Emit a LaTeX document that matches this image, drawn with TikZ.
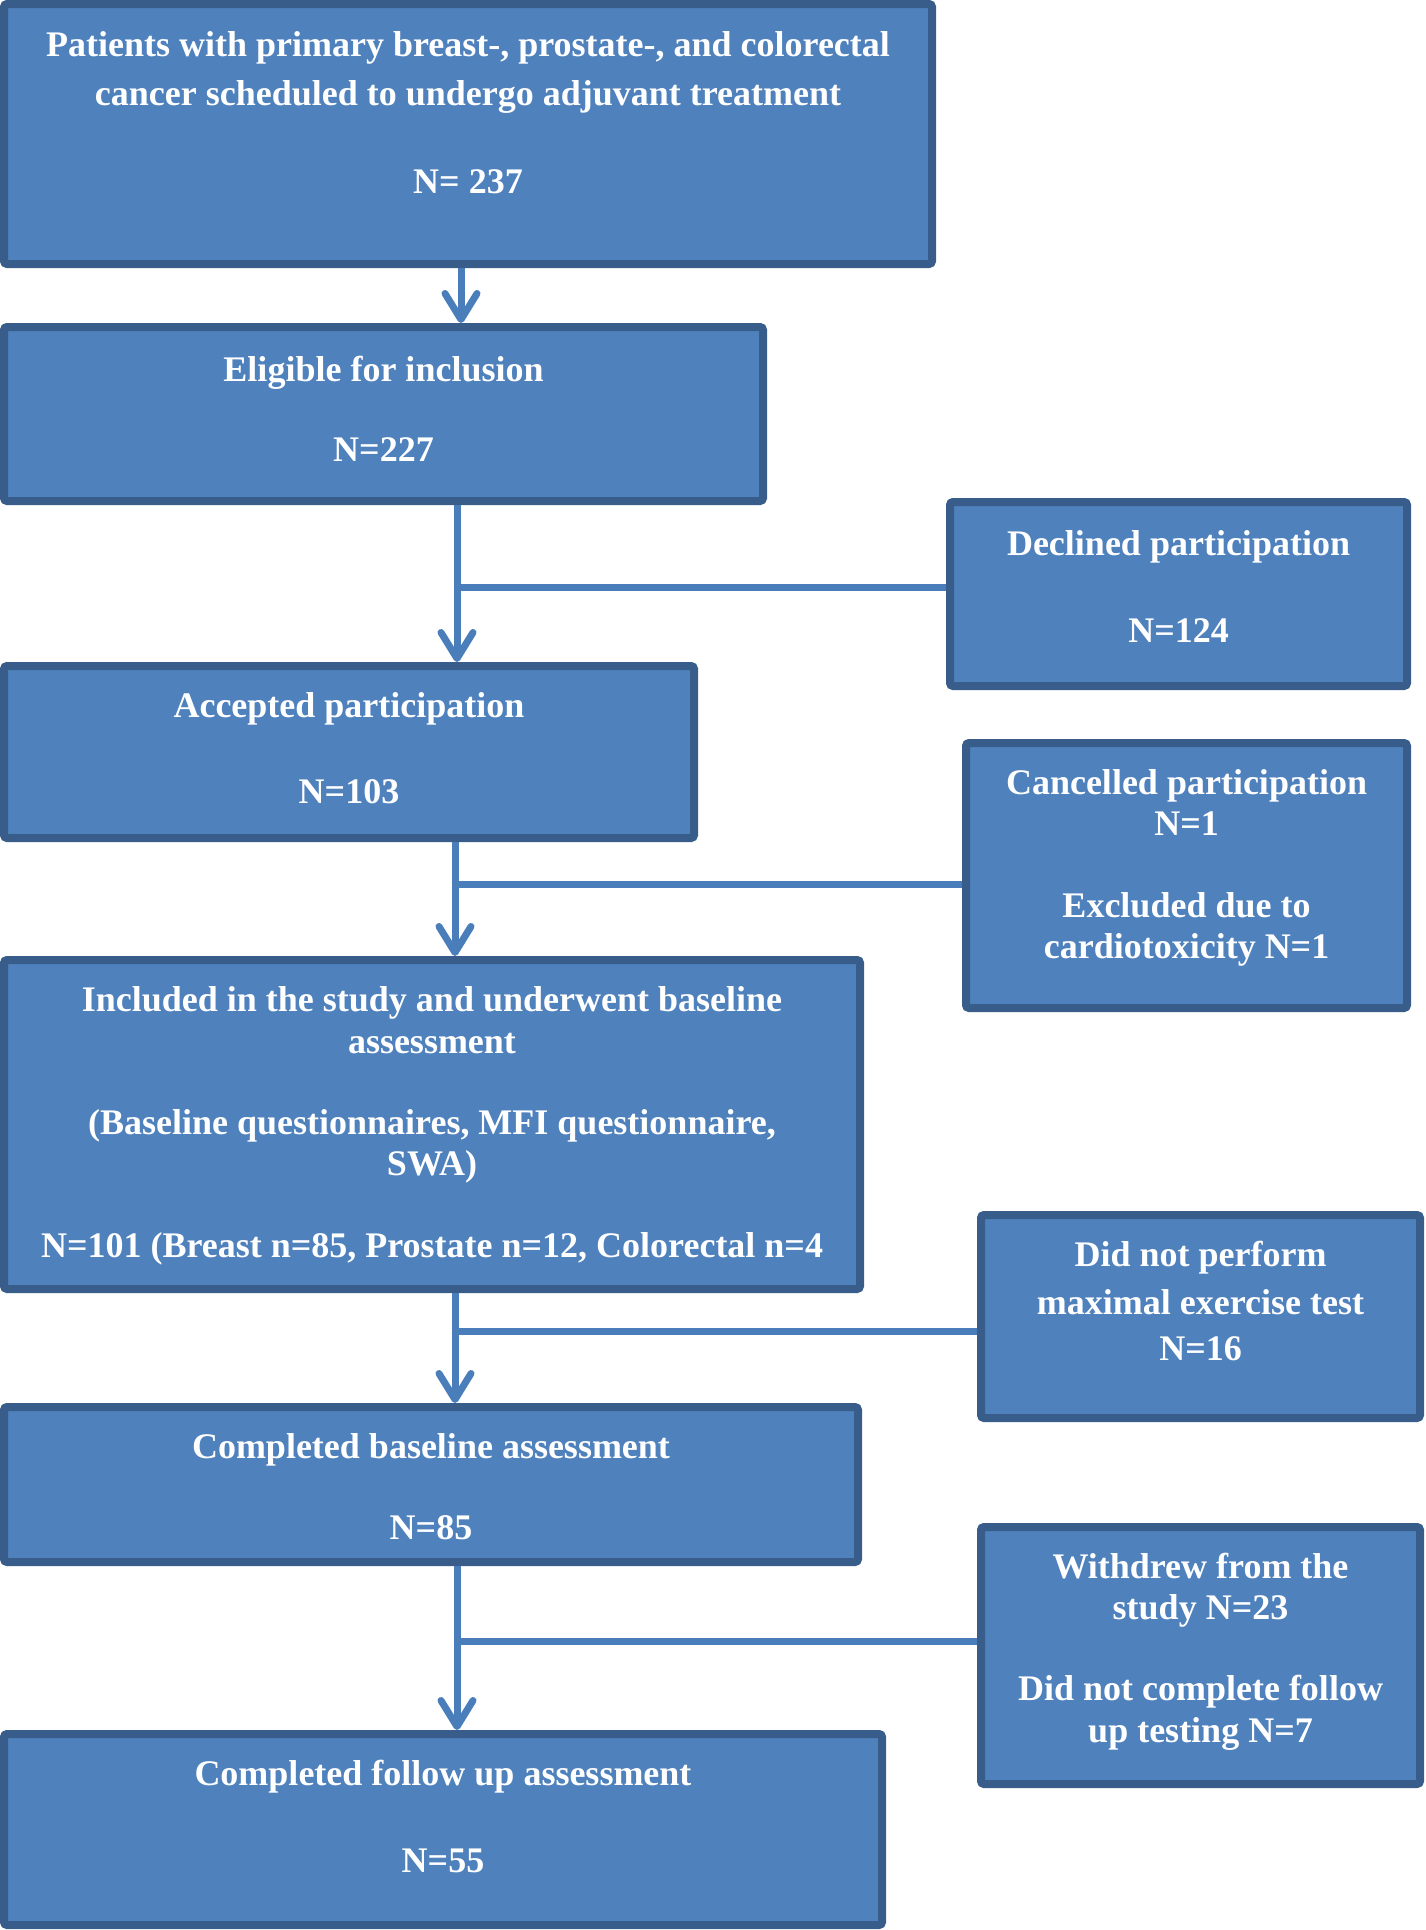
\documentclass[tikz,border=0pt]{standalone}
\usepackage{fontspec}
\setmainfont{Liberation Serif}
\usetikzlibrary{arrows.meta}
\definecolor{boxfill}{HTML}{4F81BD}
\definecolor{boxline}{HTML}{385D8A}
\definecolor{conn}{HTML}{4A7EBB}
\begin{document}
\begin{tikzpicture}[x=1pt,y=-1pt,
  box/.style={draw=boxline, fill=boxfill, line width=8pt, rounded corners=3pt, inner sep=0pt},
  txt/.style={text=white, font=\fontsize{36}{41}\selectfont\bfseries, inner sep=0pt, anchor=base},
  arr/.style={draw=conn, line width=7pt, -{Straight Barb[length=26pt,width=32pt,round]}},
  lnk/.style={draw=conn, line width=7pt}]
\useasboundingbox (0,0) rectangle (1426,1930);
% boxes
\node[box, minimum width=928pt, minimum height=260pt] (b1) at (468,134) {};
\node[box, minimum width=759pt, minimum height=174pt] (b2) at (383.5,414) {};
\node[box, minimum width=457pt, minimum height=184pt] (dec) at (1178.5,594) {};
\node[box, minimum width=690pt, minimum height=172pt] (acc) at (349,752) {};
\node[box, minimum width=441pt, minimum height=265pt] (can) at (1186.5,875.5) {};
\node[box, minimum width=856pt, minimum height=329pt] (inc) at (432,1124.5) {};
\node[box, minimum width=439pt, minimum height=203pt] (dnp) at (1200.5,1316.5) {};
\node[box, minimum width=854pt, minimum height=155pt] (cb) at (431,1484.5) {};
\node[box, minimum width=439pt, minimum height=257pt] (wd) at (1200.5,1655.5) {};
\node[box, minimum width=878pt, minimum height=191pt] (fu) at (443,1829.5) {};
% texts
\node[txt] (t1a) at (468,56) {Patients with primary breast-, prostate-, and colorectal};
\node[txt] (t1b) at (468,105) {cancer scheduled to undergo adjuvant treatment};
\node[txt] (t1c) at (468,193) {N= 237};
\node[txt] (t2a) at (383.5,381) {Eligible for inclusion};
\node[txt] (t2b) at (383.5,461) {N=227};
\node[txt] (tda) at (1178.5,555) {Declined participation};
\node[txt] (tdb) at (1178.5,642) {N=124};
\node[txt] (taa) at (349,717) {Accepted participation};
\node[txt] (tab) at (349,803) {N=103};
\node[txt] (tca) at (1186.5,794.5) {Cancelled participation};
\node[txt] (tcb) at (1186.5,835) {N=1};
\node[txt] (tcc) at (1186.5,917.5) {Excluded due to};
\node[txt] (tcd) at (1186.5,958) {cardiotoxicity N=1};
\node[txt] (tia) at (432,1011) {Included in the study and underwent baseline};
\node[txt] (tib) at (432,1053) {assessment};
\node[txt] (tic) at (432,1134) {(Baseline questionnaires, MFI questionnaire,};
\node[txt] (tid) at (432,1175) {SWA)};
\node[txt] (tie) at (432,1257) {N=101 (Breast n=85, Prostate n=12, Colorectal n=4};
\node[txt] (tna) at (1200.5,1266) {Did not perform};
\node[txt] (tnb) at (1200.5,1314) {maximal exercise test};
\node[txt] (tnc) at (1200.5,1360.5) {N=16};
\node[txt] (tba) at (431,1458) {Completed baseline assessment};
\node[txt] (tbb) at (431,1539) {N=85};
\node[txt] (twa) at (1200.5,1578) {Withdrew from the};
\node[txt] (twb) at (1200.5,1619) {study N=23};
\node[txt] (twc) at (1200.5,1700) {Did not complete follow};
\node[txt] (twd) at (1200.5,1742) {up testing N=7};
\node[txt] (tfa) at (443,1785) {Completed follow up assessment};
\node[txt] (tfb) at (443,1872) {N=55};
% junctions
\coordinate (j0) at (461,300);
\coordinate (j1) at (457,587);
\coordinate (j2) at (455,884);
\coordinate (j3) at (455,1331);
\coordinate (j4) at (457,1641);
% connectors
\draw[arr] (j0 |- b1.south) -- (j0 |- b2.north);
\draw[lnk] (dec.west |- j1) -- (j1);
\draw[arr] (j1 |- b2.south) -- (j1 |- acc.north);
\draw[lnk] (can.west |- j2) -- (j2);
\draw[arr] (j2 |- acc.south) -- (j2 |- inc.north);
\draw[lnk] (dnp.west |- j3) -- (j3);
\draw[arr] (j3 |- inc.south) -- (j3 |- cb.north);
\draw[lnk] (wd.west |- j4) -- (j4);
\draw[arr] (j4 |- cb.south) -- (j4 |- fu.north);
\end{tikzpicture}
\end{document}
